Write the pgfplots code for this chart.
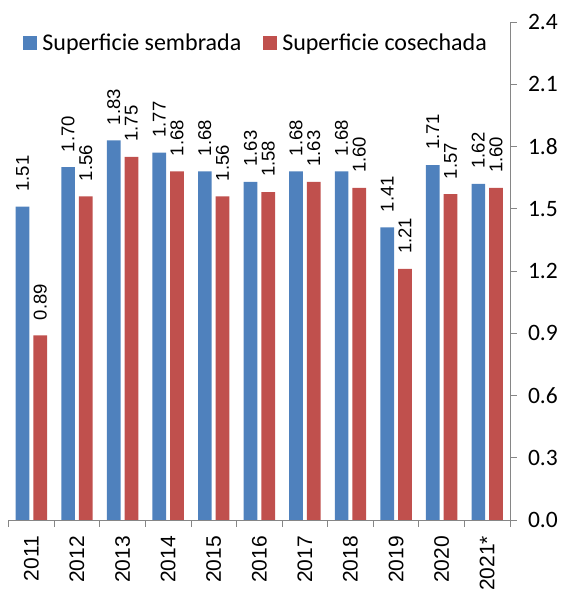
\documentclass[border=0pt]{standalone}
\usepackage{fontspec}
\setmainfont{Carlito}
\newfontfamily\lib{Liberation Sans}
\usepackage{pgfplots}
\pgfplotsset{compat=1.18}
\definecolor{cblue}{HTML}{4F81BD}
\definecolor{cred}{HTML}{C0504D}
\definecolor{axgray}{HTML}{868686}
\begin{document}
\begin{tikzpicture}
\useasboundingbox (0,0) rectangle (563pt,593pt);
\begin{axis}[
  at={(8.6pt,73pt)}, anchor=south west,
  width=501.4pt, height=498pt, scale only axis,
  xmin=-0.5, xmax=10.5, ymin=0, ymax=2.4,
  axis x line=bottom, axis y line=right,
  axis line style={axgray, line width=0.8pt, -},
  xtick={-0.5,0.5,1.5,2.5,3.5,4.5,5.5,6.5,7.5,8.5,9.5,10.5},
  xticklabels={2011,2012,2013,2014,2015,2016,2017,2018,2019,2020,2021*,{}},
  xticklabel style={font=\lib\fontsize{21}{22}\selectfont, xshift=22.8pt, yshift=-6pt, rotate=90, anchor=east},
  ytick={0,0.3,0.6,0.9,1.2,1.5,1.8,2.1,2.4},
  yticklabel={\pgfmathprintnumber[fixed,fixed zerofill,precision=1,assume math mode=true]{\tick}},
  yticklabel style={font=\fontsize{23.5}{25}\selectfont, xshift=8pt},
  tick align=outside, major tick length=6.5pt,
  tick style={axgray, line width=0.8pt},
  ybar=4pt, bar width=13.7pt,
  clip=false,
  nodes near coords={\lib\fontsize{18.5}{20}\selectfont\pgfmathprintnumber[fixed,fixed zerofill,precision=2,assume math mode=true]{\pgfplotspointmeta}},
  nodes near coords style={rotate=90, anchor=west, inner xsep=15pt, inner ysep=0pt, text=black},
  legend style={at={(0.0295,0.958)}, anchor=west, draw=none, fill=none,
    font=\fontsize{24}{26}\selectfont, inner sep=0pt, outer sep=0pt,
    nodes={inner sep=0pt, outer sep=0pt},
    /tikz/every odd column/.append style={column sep=5.5pt},
    /tikz/every even column/.append style={column sep=22pt}},
  legend columns=2, legend cell align=left,
  legend image code/.code={\fill[#1] (0pt,-6.75pt) rectangle (13.5pt,6.75pt);},
]
\addplot[fill=cblue, draw=none] coordinates {(0,1.51) (1,1.70) (2,1.83) (3,1.77) (4,1.68) (5,1.63) (6,1.68) (7,1.68) (8,1.41) (9,1.71) (10,1.62)};
\addplot[fill=cred, draw=none] coordinates {(0,0.89) (1,1.56) (2,1.75) (3,1.68) (4,1.56) (5,1.58) (6,1.63) (7,1.60) (8,1.21) (9,1.57) (10,1.60)};
\legend{Superficie sembrada, Superficie cosechada}
\end{axis}
\end{tikzpicture}
\end{document}
